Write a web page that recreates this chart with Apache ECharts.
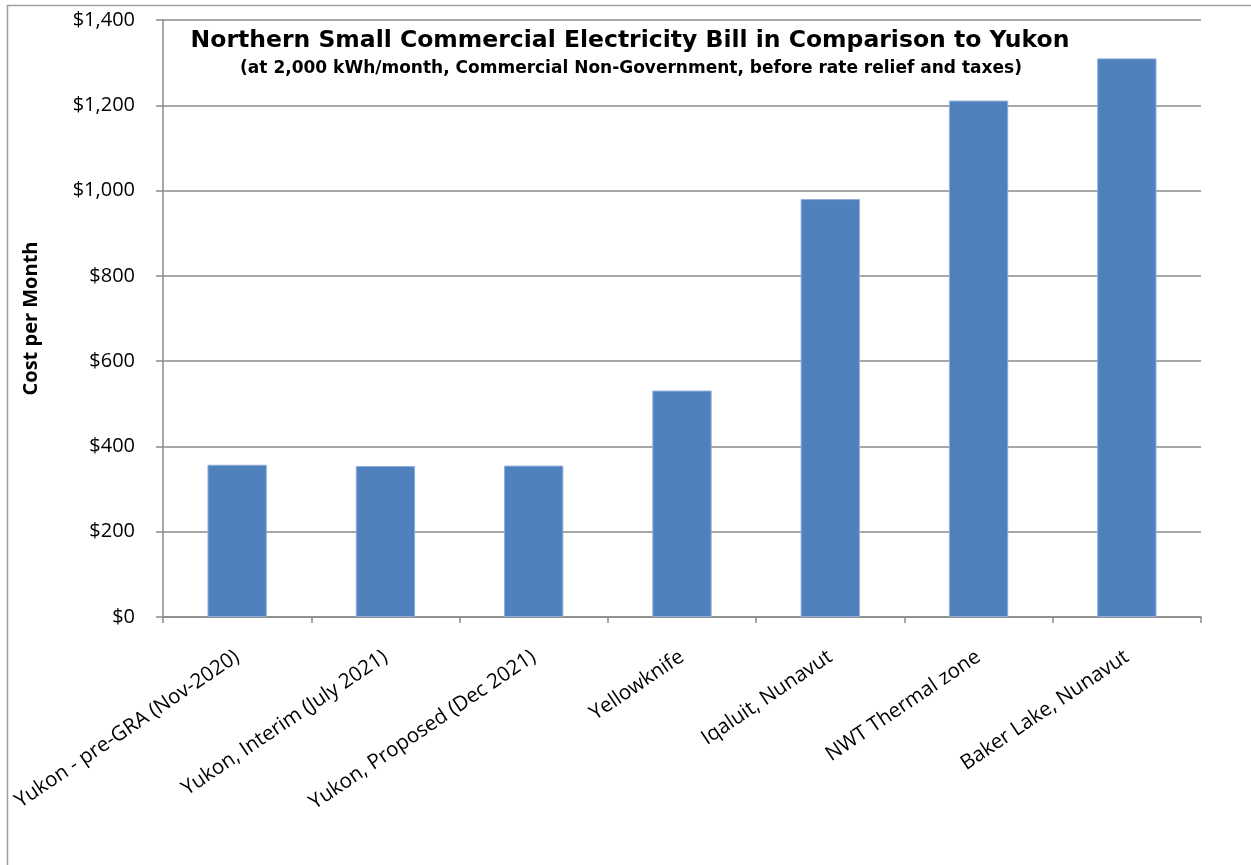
<!DOCTYPE html>
<html>
<head>
<meta charset="utf-8">
<script src="https://cdn.jsdelivr.net/npm/echarts@6/dist/echarts.min.js"></script>
<style>
html,body{margin:0;padding:0;background:#fff;}
#chart{width:1251px;height:865px;}
</style>
</head>
<body>
<div id="chart"></div>
<script>
const categories = [
  'Yukon - pre-GRA (Nov-2020)',
  'Yukon, Interim (July 2021)',
  'Yukon, Proposed (Dec 2021)',
  'Yellowknife',
  'Iqaluit, Nunavut',
  'NWT Thermal zone',
  'Baker Lake, Nunavut'
];
const costPerMonth = [357, 354, 355, 531, 980, 1211, 1310];
const titleText = 'Northern Small Commercial Electricity Bill in Comparison to Yukon';
const subtitleText = '(at 2,000 kWh/month, Commercial Non-Government, before rate relief and taxes)';
const yAxisName = 'Cost per Month';

const chart = echarts.init(document.getElementById('chart'), null, {renderer: 'canvas'});
const axisGray = '#8a8a8a';
chart.setOption({
  backgroundColor: '#ffffff',
  animation: false,
  graphic: [{
    type: 'rect',
    shape: {x: 7.5, y: 5.5, width: 1300, height: 900},
    style: {fill: 'none', stroke: '#a0a0a0', lineWidth: 1.5},
    silent: true,
    z: -1
  }, {
    type: 'text',
    x: 630, y: 41,
    style: {
      text: titleText,
      textAlign: 'center', textVerticalAlign: 'middle',
      fontFamily: '"DejaVu Sans", sans-serif',
      fontWeight: 'bold', fontSize: 23.5, fill: '#000'
    },
    silent: true
  }, {
    type: 'text',
    x: 631, y: 69,
    style: {
      text: subtitleText,
      textAlign: 'center', textVerticalAlign: 'middle',
      fontFamily: '"DejaVu Sans", sans-serif',
      fontWeight: 'bold', fontSize: 17, fill: '#000'
    },
    silent: true
  }],
  grid: {left: 163, right: 50, top: 20, bottom: 248, containLabel: false},
  xAxis: {
    type: 'category',
    data: categories,
    axisLine: {lineStyle: {color: axisGray, width: 1.5}},
    axisTick: {show: true, length: 6, lineStyle: {color: axisGray, width: 1.5}},
    axisLabel: {
      rotate: 34,
      interval: 0,
      margin: 38,
      fontFamily: '"Open Sans", sans-serif',
      fontSize: 20.5,
      color: '#000'
    }
  },
  yAxis: {
    type: 'value',
    min: 0,
    max: 1400,
    interval: 200,
    name: yAxisName,
    nameLocation: 'middle',
    nameGap: 122,
    nameTextStyle: {
      fontFamily: '"Open Sans", sans-serif',
      fontWeight: 'bold', fontSize: 20, color: '#000'
    },
    axisLine: {show: true, lineStyle: {color: axisGray, width: 1.5}},
    axisTick: {show: true, length: 7, lineStyle: {color: axisGray, width: 1.5}},
    splitLine: {show: true, lineStyle: {color: axisGray, width: 1.5}},
    axisLabel: {
      margin: 28,
      fontFamily: '"Open Sans", sans-serif',
      fontSize: 20,
      color: '#000',
      formatter: v => '$' + v.toLocaleString('en-US')
    }
  },
  series: [{
    type: 'bar',
    data: costPerMonth,
    barWidth: '40%',
    itemStyle: {color: '#4F81BD', borderColor: '#8eaedb', borderWidth: 1}
  }]
});
</script>
</body>
</html>
